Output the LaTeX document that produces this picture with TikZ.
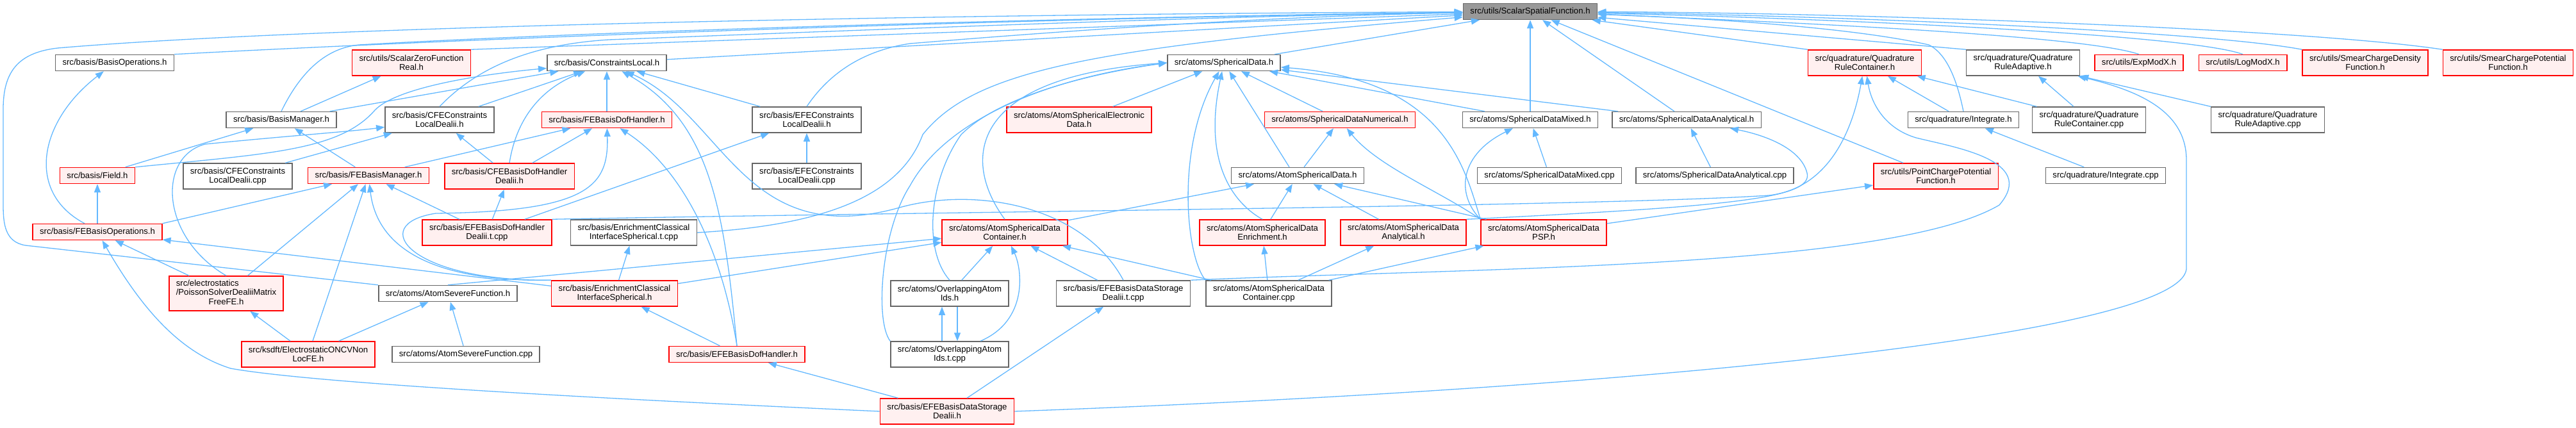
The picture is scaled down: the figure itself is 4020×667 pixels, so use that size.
\documentclass[tikz,border=0pt]{standalone}
\usepackage{fontspec}
\setmainfont{Liberation Sans}
\usetikzlibrary{arrows.meta}
\definecolor{edgeblue}{RGB}{99,184,255}
\definecolor{truncfill}{RGB}{255,240,240}
\definecolor{boxgray}{RGB}{102,102,102}
\definecolor{rootfill}{RGB}{153,153,153}
\newcommand{\graphfont}{\fontsize{13.15}{14.3}\selectfont}
\tikzset{
  hfile/.style={draw=boxgray, fill=white, line width=1.5pt, font=\graphfont, inner xsep=11pt, inner ysep=2pt, minimum height=25pt, align=center},
  trunc/.style={hfile, draw=red, fill=truncfill},
  mainfile/.style={hfile, fill=rootfill},
  tall/.style={minimum height=40pt},
  taller/.style={minimum height=54pt},
  dep/.style={-{Triangle[length=13pt,width=10pt]}, draw=edgeblue, line width=1.3pt}
}

\begin{document}
\begin{tikzpicture}[x=1pt, y=-1pt]
  \useasboundingbox (0,0) rectangle (4020,667);
  % row 0 and 1
  \node[mainfile] (ssf) at (2388,18) {src/utils/ScalarSpatialFunction.h};
  \node[hfile] (bops) at (179,98) {src/basis/BasisOperations.h};
  \node[trunc, tall] (szfr) at (642,98) {src/utils/ScalarZeroFunction\\Real.h};
  \node[hfile] (cl) at (947,98) {src/basis/ConstraintsLocal.h};
  \node[hfile] (sd) at (1910,98) {src/atoms/SphericalData.h};
  \node[trunc, tall] (qrc) at (2910,98) {src/quadrature/Quadrature\\RuleContainer.h};
  \node[hfile, tall] (qra) at (3157,98) {src/quadrature/Quadrature\\RuleAdaptive.h};
  \node[trunc] (expx) at (3338,98) {src/utils/ExpModX.h};
  \node[trunc] (logx) at (3500,98) {src/utils/LogModX.h};
  \node[trunc, tall] (scd) at (3691,98) {src/utils/SmearChargeDensity\\Function.h};
  \node[trunc, tall] (scp) at (3914,98) {src/utils/SmearChargePotential\\Function.h};
  % row 2
  \node[hfile] (bm) at (439,187) {src/basis/BasisManager.h};
  \node[hfile, tall] (cfecl) at (686,187) {src/basis/CFEConstraints\\LocalDealii.h};
  \node[trunc] (febdh) at (947,187) {src/basis/FEBasisDofHandler.h};
  \node[hfile, tall] (efecl) at (1259,187) {src/basis/EFEConstraints\\LocalDealii.h};
  \node[trunc, tall] (ased) at (1684,187) {src/atoms/AtomSphericalElectronic\\Data.h};
  \node[trunc] (sdn) at (2091,187) {src/atoms/SphericalDataNumerical.h};
  \node[hfile] (sdm) at (2388,187) {src/atoms/SphericalDataMixed.h};
  \node[hfile] (sdan) at (2632,187) {src/atoms/SphericalDataAnalytical.h};
  \node[hfile] (integ) at (3064,187) {src/quadrature/Integrate.h};
  \node[hfile, tall] (qrccpp) at (3260,187) {src/quadrature/Quadrature\\RuleContainer.cpp};
  \node[hfile, tall] (qracpp) at (3539,187) {src/quadrature/Quadrature\\RuleAdaptive.cpp};
  % row 3
  \node[trunc] (field) at (152,274) {src/basis/Field.h};
  \node[hfile, tall] (cfeclcpp) at (371,275) {src/basis/CFEConstraints\\LocalDealii.cpp};
  \node[trunc] (febm) at (575,274) {src/basis/FEBasisManager.h};
  \node[trunc, tall] (cfebdh) at (795,275) {src/basis/CFEBasisDofHandler\\Dealii.h};
  \node[hfile, tall] (efeclcpp) at (1259,275) {src/basis/EFEConstraints\\LocalDealii.cpp};
  \node[hfile] (asd) at (2025,274) {src/atoms/AtomSphericalData.h};
  \node[hfile] (sdmcpp) at (2418,274) {src/atoms/SphericalDataMixed.cpp};
  \node[hfile] (sdancpp) at (2676,274) {src/atoms/SphericalDataAnalytical.cpp};
  \node[trunc, tall] (pcpf) at (3021,275) {src/utils/PointChargePotential\\Function.h};
  \node[hfile] (integcpp) at (3286,274) {src/quadrature/Integrate.cpp};
  % row 4
  \node[trunc] (febops) at (152,362) {src/basis/FEBasisOperations.h};
  \node[trunc, tall] (efebdhtcpp) at (760,363) {src/basis/EFEBasisDofHandler\\Dealii.t.cpp};
  \node[hfile, tall] (ecistcpp) at (989,363) {src/basis/EnrichmentClassical\\InterfaceSpherical.t.cpp};
  \node[trunc, tall] (asdc) at (1568,363) {src/atoms/AtomSphericalData\\Container.h};
  \node[trunc, tall] (asde) at (1970,363) {src/atoms/AtomSphericalData\\Enrichment.h};
  \node[trunc, tall] (asda) at (2190,363) {src/atoms/AtomSphericalData\\Analytical.h};
  \node[trunc, tall] (asdpsp) at (2409,363) {src/atoms/AtomSphericalData\\PSP.h};
  % row 5
  \node[trunc, taller] (poisson) at (353,458) {\begin{tabular}{@{}l@{}}src/electrostatics\\/PoissonSolverDealiiMatrix\\\multicolumn{1}{@{}c@{}}{FreeFE.h}\end{tabular}};
  \node[hfile] (asf) at (699,458) {src/atoms/AtomSevereFunction.h};
  \node[trunc, tall] (ecis) at (959,458) {src/basis/EnrichmentClassical\\InterfaceSpherical.h};
  \node[hfile, tall] (oai) at (1482,458) {src/atoms/OverlappingAtom\\Ids.h};
  \node[hfile, tall] (efebdstcpp) at (1753,458) {src/basis/EFEBasisDataStorage\\Dealii.t.cpp};
  \node[hfile, tall] (asdccpp) at (1980,458) {src/atoms/AtomSphericalData\\Container.cpp};
  % row 6 and 7
  \node[trunc, tall] (oncv) at (481,553) {src/ksdft/ElectrostaticONCVNon\\LocFE.h};
  \node[hfile] (asfcpp) at (727,553) {src/atoms/AtomSevereFunction.cpp};
  \node[trunc] (efebdh) at (1150,553) {src/basis/EFEBasisDofHandler.h};
  \node[hfile, tall] (oaitcpp) at (1482,553) {src/atoms/OverlappingAtom\\Ids.t.cpp};
  \node[trunc, tall] (efebds) at (1478,642) {src/basis/EFEBasisDataStorage\\Dealii.h};

  % into the root
  \draw[dep] (bops.north east) .. controls (700,62) and (1500,30) .. (ssf);
  \draw[dep] (szfr.north east) -- (ssf);
  \draw[dep] (cl) -- (ssf);
  \draw[dep] (bm.north) .. controls (470,110) and (510,75) .. (560,70) .. controls (1000,45) and (1800,25) .. (ssf);
  \draw[dep] (cfecl.north) .. controls (740,110) and (820,70) .. (950,62) .. controls (1400,45) and (1900,25) .. (ssf);
  \draw[dep] (efecl.north) .. controls (1290,120) and (1340,80) .. (1420,68) .. controls (1700,45) and (2000,25) .. (ssf);
  \draw[dep] (ecistcpp.east) .. controls (1320,350) and (1410,290) .. (1440,210) .. controls (1520,110) and (1700,75) .. (ssf);
  \draw[dep] (asf.north west) -- (40,383) .. controls (8,378) and (5,350) .. (5,320) -- (5,170) .. controls (5,110) and (30,82) .. (90,75) .. controls (500,40) and (1500,22) .. (ssf);
  \draw[dep] (sd) -- (ssf); \draw[dep] (sdm) -- (ssf); \draw[dep] (sdan) -- (ssf); \draw[dep] (pcpf) -- (ssf);
  \draw[dep] (qrc.north west) -- (ssf); \draw[dep] (qra.north west) -- (ssf);
  \draw[dep] (integ.north) .. controls (3055,130) and (3040,85) .. (3010,70) .. controls (2900,45) and (2700,30) .. (ssf);
  \draw[dep] (expx.north) .. controls (3250,55) and (2800,35) .. (ssf);
  \draw[dep] (logx.north) .. controls (3420,55) and (2900,30) .. (ssf);
  \draw[dep] (scd.north west) .. controls (3450,50) and (2900,25) .. (ssf);
  \draw[dep] (scp.north west) .. controls (3600,45) and (2900,20) .. (ssf);

  % basis headers
  \draw[dep] (bm) -- (szfr); \draw[dep] (bm) -- (cl);
  \draw[dep] (field.north east) .. controls (420,240) and (530,235) .. (585,172) .. controls (620,135) and (760,115) .. (cl);
  \draw[dep] (cfecl) -- (cl); \draw[dep] (febdh) -- (cl); \draw[dep] (efecl) -- (cl);
  \draw[dep] (cfebdh.north) .. controls (805,190) and (840,140) .. (cl);
  \draw[dep] (efebdh.north) .. controls (1130,330) and (1110,190) .. (cl);
  \draw[dep] (efebdstcpp.north) .. controls (1690,320) and (1520,290) .. (1400,325) .. controls (1160,390) and (1130,180) .. (cl);
  \draw[dep] (febm) -- (febdh); \draw[dep] (cfebdh) -- (febdh);
  \draw[dep] (ecis.north west) .. controls (640,440) and (570,350) .. (680,333) .. controls (920,330) and (950,290) .. (febdh);
  \draw[dep] (efebdh.north) .. controls (1125,380) and (1060,260) .. (febdh);
  \draw[dep] (febops.north east) -- (febm); \draw[dep] (poisson) -- (febm); \draw[dep] (oncv) -- (febm); \draw[dep] (efebdhtcpp) -- (febm);
  \draw[dep] (ecis.north west) .. controls (700,440) and (590,400) .. (febm);
  \draw[dep] (field) -- (bm); \draw[dep] (febm) -- (bm);
  \draw[dep] ([xshift=-20pt]febops.north) .. controls (40,300) and (60,190) .. (bops);
  \draw[dep] (febops) -- (field);
  \draw[dep] (ecis) -- (febops); \draw[dep] (poisson) -- (febops);
  \draw[dep] (efebds.west) .. controls (1000,625) and (500,600) .. (360,575) .. controls (280,550) and (220,480) .. (febops);
  \draw[dep] (poisson.north) .. controls (250,370) and (245,245) .. (320,225) .. controls (450,212) and (550,205) .. (cfecl);
  \draw[dep] (cfeclcpp) -- (cfecl); \draw[dep] (cfebdh) -- (cfecl);
  \draw[dep] (efebdhtcpp) -- (cfebdh);
  \draw[dep] (efeclcpp) -- (efecl); \draw[dep] (efebdhtcpp) -- (efecl);
  \draw[dep] (efebdh) -- (ecis); \draw[dep] (ecis) -- (ecistcpp);
  \draw[dep] (oncv) -- (poisson); \draw[dep] (oncv) -- (asf); \draw[dep] (asfcpp) -- (asf);
  \draw[dep] (efebds) -- (efebdh); \draw[dep] (efebds) -- (efebdstcpp);

  % atoms headers
  \draw[dep] (asf.north) -- (asdc); \draw[dep] (ecis) -- (asdc); \draw[dep] (oai) -- (asdc);
  \draw[dep] (oaitcpp) .. controls (1605,500) and (1595,420) .. (asdc);
  \draw[dep] (efebdstcpp) -- (asdc); \draw[dep] (asdccpp) -- (asdc);
  \draw[dep] (asdc) -- (asd); \draw[dep] (asde) -- (asd); \draw[dep] (asda) -- (asd); \draw[dep] (asdpsp) -- (asd);
  \draw[dep] (ased) -- (sd); \draw[dep] ([xshift=-13pt]asd.north) -- (sd); \draw[dep] (sdn) -- (sd);
  \draw[dep] (sdm) -- (sd); \draw[dep] (sdan) -- (sd);
  \draw[dep] (asdc.north) .. controls (1500,250) and (1510,120) .. (sd.west);
  \draw[dep] (oai.north) .. controls (1440,390) and (1450,280) .. (1500,210) .. controls (1560,150) and (1700,115) .. (sd.west);
  \draw[dep] (oaitcpp.north west) .. controls (1365,500) and (1375,360) .. (1420,290) .. controls (1480,180) and (1650,120) .. (sd.west);
  \draw[dep] (asde.north) .. controls (1930,320) and (1875,260) .. (sd);
  \draw[dep] (asdccpp.north west) .. controls (1850,400) and (1835,230) .. (sd);
  \draw[dep] (asdpsp.north west) .. controls (2285,260) and (2255,125) .. (sd);
  \draw[dep] (asd) -- (sdn);
  \draw[dep] (asdpsp.north west) .. controls (2250,300) and (2150,260) .. (sdn);
  \draw[dep] (asdpsp.north west) .. controls (2270,300) and (2280,240) .. (sdm);
  \draw[dep] (sdmcpp) -- (sdm); \draw[dep] (sdancpp) -- (sdan);
  \draw[dep] (asda.north east) .. controls (2700,322) and (2830,310) .. (2820,270) .. controls (2810,230) and (2750,210) .. (sdan);
  \draw[dep] (asdccpp) -- (asde); \draw[dep] (asdccpp) -- (asda); \draw[dep] (asdccpp) -- (asdpsp);
  \draw[dep] ([xshift=-12pt]oaitcpp.north) -- ([xshift=-12pt]oai.south);
  \draw[dep] ([xshift=12pt]oai.south) -- ([xshift=12pt]oaitcpp.north);
  \draw[dep] (asdpsp) -- (pcpf);

  % quadrature
  \draw[dep] (integ) -- (qrc); \draw[dep] (qrccpp) -- (qrc);
  \draw[dep] (qrccpp) -- (qra); \draw[dep] (qracpp) -- (qra); \draw[dep] (integcpp) -- (integ);
  \draw[dep] (efebdhtcpp.north east) .. controls (1500,330) and (2500,322) .. (2760,305) .. controls (2850,295) and (2890,210) .. (qrc);
  \draw[dep] (efebdstcpp.north east) .. controls (2300,418) and (2950,420) .. (3120,320) .. controls (3180,250) and (3050,230) .. (2990,215) .. controls (2940,200) and (2920,160) .. (qrc);
  \draw[dep] (efebds.east) .. controls (2600,605) and (3400,520) .. (3412,420) -- (3412,250) .. controls (3412,170) and (3330,140) .. (qra);
\end{tikzpicture}
\end{document}
